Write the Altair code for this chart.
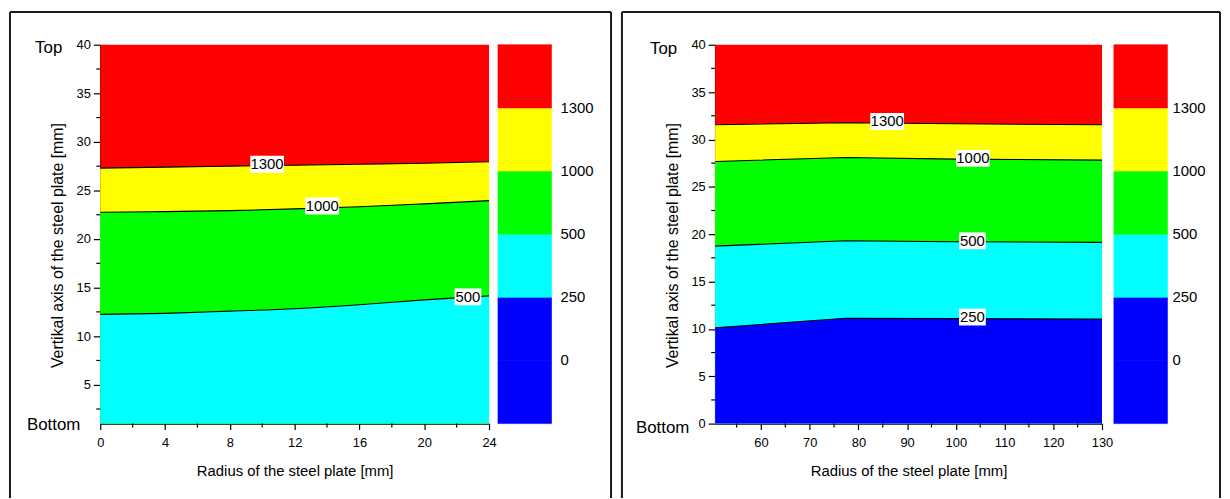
import altair as alt
import pandas as pd

FONT = "Liberation Sans"

# ---------------- data: left panel ----------------
left_x = [0, 4, 8, 12, 16, 20, 24]
left_c500 = [12.24, 12.35, 12.58, 12.83, 13.23, 13.74, 14.15]
left_c1000 = [22.76, 22.82, 22.92, 23.1, 23.32, 23.62, 23.95]
left_c1300 = [27.3, 27.4, 27.5, 27.6, 27.7, 27.8, 27.95]
left_y_domain = [1.0, 40.0]
left_x_domain = [0, 24]
left_x_major = [0, 4, 8, 12, 16, 20, 24]
left_x_minor = [2, 6, 10, 14, 18, 22]
left_y_major = [5, 10, 15, 20, 25, 30, 35, 40]
left_y_minor = [2.5, 7.5, 12.5, 17.5, 22.5, 27.5, 32.5, 37.5]
left_lab_text = ["1300", "1000", "500"]
left_lab_x = [10.3, 13.7, 22.7]
left_lab_y = [27.7, 23.4, 14.05]

# ---------------- data: right panel ----------------
right_x = [50.6, 77.4, 100, 130]
right_c250 = [10.12, 11.13, 11.08, 11.03]
right_c500 = [18.74, 19.3, 19.2, 19.13]
right_c1000 = [27.68, 28.1, 27.92, 27.82]
right_c1300 = [31.55, 31.76, 31.65, 31.55]
right_y_domain = [0.0, 40.0]
right_x_domain = [50.6, 130]
right_x_major = [60, 70, 80, 90, 100, 110, 120, 130]
right_x_minor = [55, 65, 75, 85, 95, 105, 115, 125]
right_y_major = [0, 5, 10, 15, 20, 25, 30, 35, 40]
right_y_minor = [2.5, 7.5, 12.5, 17.5, 22.5, 27.5, 32.5, 37.5]
right_lab_text = ["1300", "1000", "500", "250"]
right_lab_x = [85.9, 103.5, 103.4, 103.4]
right_lab_y = [31.9, 28.0, 19.3, 11.25]

# ---------------- colour bar ----------------
cbar_labels = ["0", "250", "500", "1000", "1300"]
cbar_label_pos = [1, 2, 3, 4, 5]
cbar_lo = [0, 1, 2, 3, 4, 5]
cbar_hi = [1, 2, 3, 4, 5, 6]
RED, YELLOW, GREEN, CYAN, BLUE = "#FF0000", "#FFFF00", "#00FF00", "#00FFFF", "#0000FF"
cbar_colors = [BLUE, BLUE, CYAN, GREEN, YELLOW, RED]

H = 382


def axis_common():
    return dict(grid=False, domainColor="black", domainWidth=1.5, tickColor="black",
                tickWidth=1.2, labelColor="black", labelFont=FONT, labelFontSize=13,
                titleFont=FONT, titleColor="black", titleFontWeight="normal",
                labelFlush=False, labelOverlap=False)


def make_panel(xs, uppers, ydom, xdom, interp, contours, lab_text, lab_x, lab_y,
               xmajor, xminor, ymajor, yminor, W, frame_l, frame_r, top_x, bot_x, top_dy, bot_dy):
    xsc = alt.Scale(domain=xdom, nice=False, zero=False)
    ysc = alt.Scale(domain=ydom, nice=False, zero=False)
    xaxis = alt.Axis(values=xmajor, tickSize=6, title="Radius of the steel plate [mm]",
                     labelPadding=7, titleFontSize=15, titlePadding=14, **axis_common())
    yaxis = alt.Axis(values=ymajor, tickSize=7, title="Vertikal axis of the steel plate [mm]",
                     labelPadding=3, titleFontSize=16, titleX=-35, titleY=202, titleAngle=270,
                     titleBaseline="bottom", titleAlign="center", **axis_common())

    def X(f):
        return alt.X(f, scale=xsc, axis=xaxis)

    def Y(f, **kw):
        return alt.Y(f, scale=ysc, axis=yaxis, **kw)

    layers = []
    for vals, col in uppers:
        df = pd.DataFrame({"x": xs, "hi": vals, "lo": [ydom[0]] * len(xs)})
        layers.append(alt.Chart(df).mark_area(color=col, interpolate=interp).encode(
            x=X("x:Q"), y=Y("hi:Q", stack=False), y2="lo:Q"))
    rows = []
    for name, vals in contours:
        for xv, yv in zip(xs, vals):
            rows.append({"x": xv, "y": yv, "level": name})
    layers.append(alt.Chart(pd.DataFrame(rows)).mark_line(
        color="black", strokeWidth=1.1, interpolate=interp).encode(
        x=X("x:Q"), y=Y("y:Q"), detail="level:N"))
    ldf = pd.DataFrame({"t": lab_text, "x": lab_x, "y": lab_y})
    ldf["n"] = ldf["t"].str.len()
    for n, w in [(4, 34), (3, 27)]:
        layers.append(alt.Chart(ldf).transform_filter(f"datum.n == {n}").mark_rect(
            color="white", width=w, height=17).encode(x=X("x:Q"), y=Y("y:Q")))
    layers.append(alt.Chart(ldf).mark_text(font=FONT, fontSize=15, color="black",
                                           baseline="middle", align="center").encode(
        x=X("x:Q"), y=Y("y:Q"), text="t:N"))
    # minor ticks
    mx = pd.DataFrame({"v": xminor})
    my = pd.DataFrame({"v": yminor})
    layers.append(alt.Chart(mx).mark_rule(color="black", strokeWidth=1.2).encode(
        x=X("v:Q"), y=alt.value(H), y2=alt.value(H + 4)))
    layers.append(alt.Chart(my).mark_rule(color="black", strokeWidth=1.2).encode(
        y=Y("v:Q"), x=alt.value(0), x2=alt.value(-4)))
    # Top / Bottom annotations
    tdf = pd.DataFrame({"t": ["Top"], "y": [ydom[1]]})
    bdf = pd.DataFrame({"t": ["Bottom"], "y": [ydom[0]]})
    layers.append(alt.Chart(tdf).mark_text(font=FONT, fontSize=17, color="black",
                                           baseline="middle", align="center", dy=top_dy).encode(
        x=alt.value(top_x), y=Y("y:Q"), text="t:N"))
    layers.append(alt.Chart(bdf).mark_text(font=FONT, fontSize=17, color="black",
                                           baseline="middle", align="center", dy=bot_dy).encode(
        x=alt.value(bot_x), y=Y("y:Q"), text="t:N"))
    # panel frame (top, left, right)
    one = pd.DataFrame({"k": [0]})
    fr = dict(color="#1a1a1a", strokeWidth=2)
    layers.append(alt.Chart(one).mark_rule(**fr).encode(
        x=alt.value(frame_l), x2=alt.value(frame_r), y=alt.value(-33)))
    layers.append(alt.Chart(one).mark_rule(**fr).encode(
        x=alt.value(frame_l), y=alt.value(-33), y2=alt.value(457)))
    layers.append(alt.Chart(one).mark_rule(**fr).encode(
        x=alt.value(frame_r), y=alt.value(-33), y2=alt.value(457)))
    return alt.layer(*layers).properties(width=W, height=H)


def make_cbar(W, bx0, bx1, lx):
    ysc = alt.Scale(domain=[0, 6], nice=False, zero=False)
    cdf = pd.DataFrame({"lo": cbar_lo, "hi": cbar_hi, "col": cbar_colors})
    bars = alt.Chart(cdf).mark_rect(strokeWidth=0.6).encode(
        x=alt.value(bx0), x2=alt.value(bx1),
        y=alt.Y("lo:Q", scale=ysc, axis=None), y2="hi:Q",
        color=alt.Color("col:N", scale=None),
        stroke=alt.Stroke("col:N", scale=None))
    ldf = pd.DataFrame({"t": cbar_labels, "p": cbar_label_pos})
    labs = alt.Chart(ldf).mark_text(font=FONT, fontSize=15, color="black",
                                    align="left", baseline="middle").encode(
        x=alt.value(lx), y=alt.Y("p:Q", scale=ysc, axis=None), text="t:N")
    return alt.layer(bars, labs).properties(width=W, height=H)


left = make_panel(left_x, [([left_y_domain[1]] * len(left_x), RED),
                           (left_c1300, YELLOW), (left_c1000, GREEN), (left_c500, CYAN)],
                  left_y_domain, left_x_domain, "monotone",
                  [("500", left_c500), ("1000", left_c1000), ("1300", left_c1300)],
                  left_lab_text, left_lab_x, left_lab_y,
                  left_x_major, left_x_minor, left_y_major, left_y_minor,
                  392, -91, 515, -52, -47, 3, 1)

right = make_panel(right_x, [([right_y_domain[1]] * len(right_x), RED),
                             (right_c1300, YELLOW), (right_c1000, GREEN),
                             (right_c500, CYAN), (right_c250, BLUE)],
                   right_y_domain, right_x_domain, "linear",
                   [("250", right_c250), ("500", right_c500), ("1000", right_c1000),
                    ("1300", right_c1300)],
                   right_lab_text, right_lab_x, right_lab_y,
                   right_x_major, right_x_minor, right_y_major, right_y_minor,
                   390, -94, 509, -52, -53, 4, 4)

cbar1 = make_cbar(228, 9, 63, 72)
cbar2 = make_cbar(117, 12, 66, 71)

chart = alt.hconcat(left, cbar1, right, cbar2, spacing=0, bounds="flush").properties(
    padding=0, background="white"
).configure_view(stroke="transparent")

chart.save("out.html", embed_options={"renderer": "svg", "actions": False})
